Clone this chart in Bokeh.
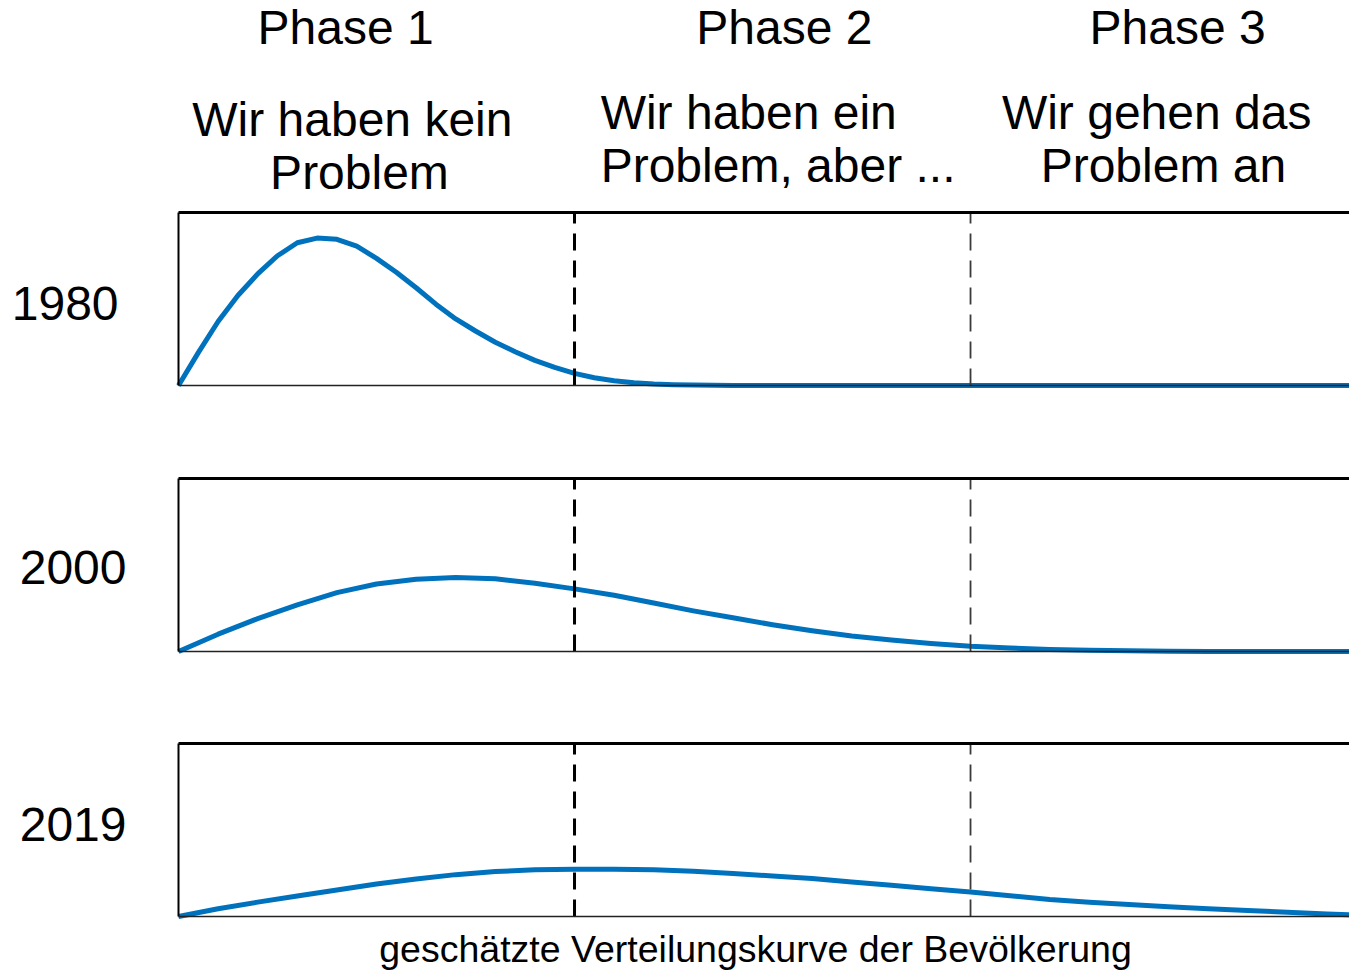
from bokeh.plotting import figure
from bokeh.layouts import column
from bokeh.models import Range1d
from bokeh.core.properties import value
from bokeh.embed import file_html
from bokeh.resources import INLINE

# ---------------- data ----------------
years = ["1980", "2000", "2019"]
phase_titles = ["Phase 1", "Phase 2", "Phase 3"]
phase_texts = [["Wir haben kein", "Problem"],
               ["Wir haben ein", "Problem, aber ..."],
               ["Wir gehen das", "Problem an"]]
phase_bounds = [1.0, 2.0]
x_label = "geschätzte Verteilungskurve der Bevölkerung"

x_1980 = [0.00, 0.05, 0.10, 0.15, 0.20, 0.25, 0.30, 0.35, 0.40, 0.45, 0.50, 0.55,
          0.60, 0.65, 0.70, 0.75, 0.80, 0.85, 0.90, 0.95, 1.00, 1.05, 1.10, 1.15,
          1.20, 1.25, 1.30, 1.40, 2.96]
y_1980 = [0.000, 0.190, 0.370, 0.520, 0.645, 0.750, 0.825, 0.852, 0.845, 0.805, 0.735, 0.655,
          0.565, 0.470, 0.385, 0.315, 0.250, 0.195, 0.145, 0.105, 0.070, 0.045, 0.027, 0.016,
          0.009, 0.005, 0.003, 0.000, 0.000]

x_2000 = [0.0, 0.1, 0.2, 0.3, 0.4, 0.5, 0.6, 0.7, 0.8, 0.9, 1.0, 1.1, 1.2, 1.3, 1.4,
          1.5, 1.6, 1.7, 1.8, 1.9, 2.0, 2.1, 2.2, 2.3, 2.4, 2.5, 2.6, 2.96]
y_2000 = [0.000, 0.100, 0.190, 0.270, 0.340, 0.390, 0.418, 0.428, 0.420, 0.395, 0.362, 0.325,
          0.280, 0.235, 0.195, 0.155, 0.120, 0.090, 0.066, 0.046, 0.030, 0.020, 0.012, 0.007,
          0.004, 0.002, 0.000, 0.000]

x_2019 = [0.0, 0.1, 0.2, 0.3, 0.4, 0.5, 0.6, 0.7, 0.8, 0.9, 1.0, 1.1, 1.2, 1.3, 1.4,
          1.5, 1.6, 1.7, 1.8, 1.9, 2.0, 2.1, 2.2, 2.3, 2.4, 2.5, 2.6, 2.7, 2.8, 2.9, 2.96]
y_2019 = [0.000, 0.045, 0.083, 0.118, 0.153, 0.188, 0.217, 0.242, 0.260, 0.270, 0.273, 0.273,
          0.270, 0.262, 0.249, 0.234, 0.220, 0.200, 0.180, 0.160, 0.141, 0.120, 0.098, 0.082,
          0.069, 0.056, 0.045, 0.035, 0.024, 0.015, 0.010]

series = [(x_1980, y_1980), (x_2000, y_2000), (x_2019, y_2019)]

# ---------------- layout ----------------
W = 1349
X_LO, X_HI = -0.4495, 2.957          # visible x extent (panel starts at 0)
FONT = "Liberation Sans"
BLUE = "#0072BD"
BIG = "48px"
SMALL = "37.5px"

# (figure height, y range start, y range end) ; panel occupies y in [0, 1]
rows = [(431, -0.2659, 2.2254),
        (266, -0.2659, 1.2717),
        (274, -0.3179, 1.2659)]

year_pos = [(-0.421, 0.474), (-0.401, 0.486), (-0.401, 0.532)]

panels = []
for i, ((xs, ys), (h, y0, y1)) in enumerate(zip(series, rows)):
    p = figure(width=W, height=h, x_range=Range1d(X_LO, X_HI), y_range=Range1d(y0, y1),
               output_backend="svg", toolbar_location=None,
               x_axis_type=None, y_axis_type=None, min_border=0)
    p.outline_line_color = None
    p.background_fill_color = "white"
    p.border_fill_color = "white"

    # distribution curve
    p.line(xs, ys, line_color=BLUE, line_width=5, line_join="round")

    # phase boundaries
    p.segment(x0=[phase_bounds[0]], y0=[0], x1=[phase_bounds[0]], y1=[1],
              line_color="black", line_width=3, line_dash="17 10")
    p.segment(x0=[phase_bounds[1]], y0=[0], x1=[phase_bounds[1]], y1=[1],
              line_color="#3a3a3a", line_width=1.8, line_dash="17 10")

    # panel frame (top, left, bottom)
    p.segment(x0=[0], y0=[1], x1=[X_HI], y1=[1], line_color="black", line_width=3)
    p.segment(x0=[0], y0=[0], x1=[0], y1=[1], line_color="black", line_width=2)
    p.segment(x0=[0], y0=[0], x1=[X_HI], y1=[0], line_color="#222222", line_width=1.5)

    # year label
    yx, yy = year_pos[i]
    p.text(x=[yx], y=[yy], text=[years[i]], text_font=value(FONT),
           text_font_size=value(BIG), text_align="left",
           text_baseline="alphabetic", text_color="black")
    panels.append(p)

# header texts in the first figure
p1 = panels[0]
title_x = [0.422, 1.530, 2.523]
p1.text(x=title_x, y=[2.069] * 3, text=phase_titles, text_font=value(FONT),
        text_font_size=value(BIG), text_align="center",
        text_baseline="alphabetic", text_color="black")

line_pos = [[(0.439, 1.538, "center"), (0.457, 1.231, "center")],
            [(1.066, 1.578, "left"), (1.066, 1.272, "left")],
            [(2.470, 1.578, "center"), (2.487, 1.272, "center")]]
for texts, pos in zip(phase_texts, line_pos):
    for txt, (x, y, al) in zip(texts, pos):
        p1.text(x=[x], y=[y], text=[txt], text_font=value(FONT),
                text_font_size=value(BIG), text_align=al,
                text_baseline="alphabetic", text_color="black")

# bottom label
panels[2].text(x=[1.457], y=[-0.190], text=[x_label], text_font=value(FONT),
               text_font_size=value(SMALL), text_align="center",
               text_baseline="alphabetic", text_color="black")

layout = column(*panels, spacing=0)
open("out.html", "w").write(file_html(layout, INLINE))
